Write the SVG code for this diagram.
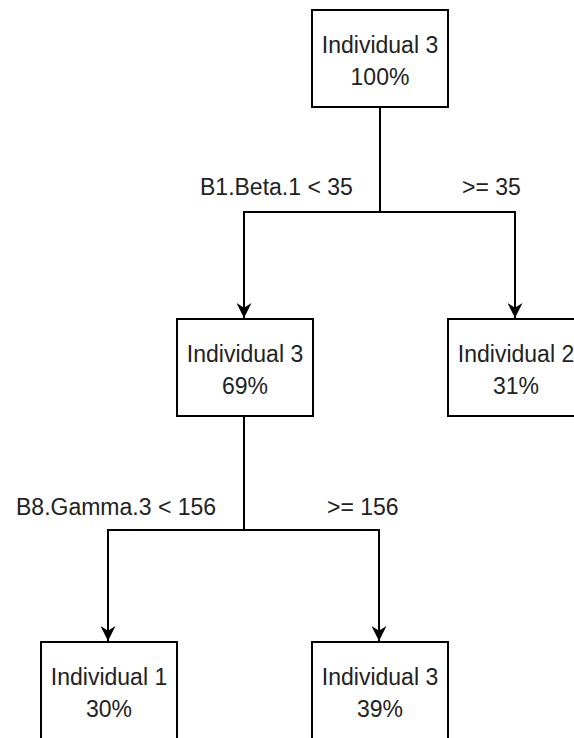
<svg xmlns="http://www.w3.org/2000/svg" width="574" height="738" viewBox="0 0 574 738">
  <style>
    .box { fill: #ffffff; stroke: #000000; stroke-width: 2; }
    .txt { font-family: "Liberation Sans", Arial, sans-serif; font-size: 23px; fill: #222222; }
    .mid { text-anchor: middle; }
    .edge { fill: none; stroke: #000000; stroke-width: 2; }
  </style>
  <defs>
    <marker id="arrow" markerUnits="userSpaceOnUse" viewBox="0 0 16 16" refX="16" refY="8" markerWidth="16" markerHeight="15" orient="auto">
      <path d="M0,0 L16,8 L0,16 L5,8 Z" fill="#000000"/>
    </marker>
  </defs>
  <rect width="574" height="738" fill="#ffffff"/>

  <g id="connectors">
    <path class="edge" d="M380,107 V212 H244 V318" marker-end="url(#arrow)"/>
    <path class="edge" d="M380,212 H515 V318" marker-end="url(#arrow)"/>
    <path class="edge" d="M244,416 V530 H108 V641" marker-end="url(#arrow)"/>
    <path class="edge" d="M244,530 H379 V641" marker-end="url(#arrow)"/>
  </g>

  <g id="labels">
    <text class="txt" x="200" y="195">B1.Beta.1 &lt; 35</text>
    <text class="txt" x="462" y="195">&gt;= 35</text>
    <text class="txt" x="16" y="515">B8.Gamma.3 &lt; 156</text>
    <text class="txt" x="327" y="515">&gt;= 156</text>
  </g>

  <g id="node-root">
    <rect class="box" x="312" y="10" width="136" height="97"/>
    <text class="txt mid" x="380" y="53">Individual 3</text>
    <text class="txt mid" x="380" y="85">100%</text>
  </g>
  <g id="node-left">
    <rect class="box" x="177" y="319" width="136" height="97"/>
    <text class="txt mid" x="245" y="362">Individual 3</text>
    <text class="txt mid" x="245" y="394">69%</text>
  </g>
  <g id="node-right">
    <rect class="box" x="448" y="319" width="136" height="97"/>
    <text class="txt mid" x="516" y="362">Individual 2</text>
    <text class="txt mid" x="516" y="394">31%</text>
  </g>
  <g id="node-ll">
    <rect class="box" x="41" y="642" width="136" height="97"/>
    <text class="txt mid" x="109" y="685">Individual 1</text>
    <text class="txt mid" x="109" y="717">30%</text>
  </g>
  <g id="node-lr">
    <rect class="box" x="312" y="642" width="136" height="97"/>
    <text class="txt mid" x="380" y="685">Individual 3</text>
    <text class="txt mid" x="380" y="717">39%</text>
  </g>
</svg>
